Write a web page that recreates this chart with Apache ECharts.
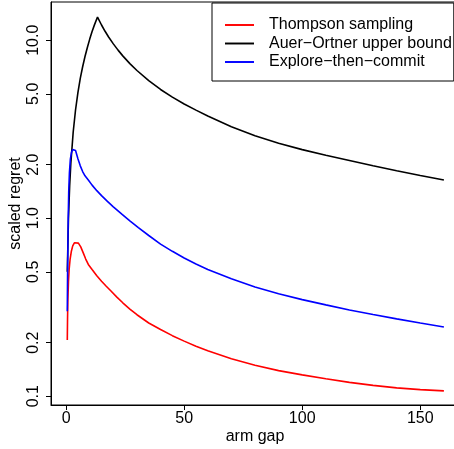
<!DOCTYPE html>
<html>
<head>
<meta charset="utf-8">
<script src="https://cdn.jsdelivr.net/npm/echarts@6/dist/echarts.min.js"></script>
<style>
html,body{margin:0;padding:0;background:#fff;}
#c{width:454px;height:449px;}
</style>
</head>
<body>
<div id="c"></div>
<script>
// Thompson sampling (red)
var redX = [0.5, 0.6, 0.75, 1.0, 1.3, 1.7, 2.2, 2.8, 3.5, 4.3, 5.2, 6.2, 7.3, 8.3, 9.4, 11, 13, 15, 17, 19, 21.5, 24, 27, 30, 35, 40, 45, 50, 55, 60, 70, 80, 90, 100, 110, 120, 130, 140, 150, 160];
var redY = [0.207, 0.27, 0.35, 0.44, 0.52, 0.59, 0.65, 0.70, 0.728, 0.738, 0.725, 0.69, 0.637, 0.59, 0.55, 0.515, 0.475, 0.443, 0.415, 0.39, 0.3606, 0.335, 0.309, 0.287, 0.258, 0.237, 0.219, 0.204, 0.191, 0.180, 0.1626, 0.1493, 0.1393, 0.1318, 0.1253, 0.1197, 0.1151, 0.1114, 0.1089, 0.1072];
// Auer-Ortner upper bound (black)
var blackX = [0.5, 1, 1.5, 2, 3, 4, 5, 6, 7, 8, 9, 10, 11, 12, 13.3, 15, 16.5, 18, 20, 22, 24, 27, 30, 35, 40, 45, 50, 55, 60, 70, 80, 90, 100, 110, 120, 130, 140, 150, 160];
var blackY = [0.5, 1.0, 1.52, 2.03, 3.05, 4.07, 5.08, 6.1, 7.1, 8.1, 9.1, 10.15, 11.2, 12.2, 13.5, 12.18, 11.23, 10.43, 9.54, 8.8, 8.17, 7.39, 6.76, 5.93, 5.29, 4.79, 4.38, 4.05, 3.75, 3.27, 2.91, 2.64, 2.43, 2.26, 2.11, 1.97, 1.85, 1.74, 1.64];
// Explore-then-commit (blue)
var blueX = [0.5, 0.6, 0.75, 0.9, 1.1, 1.4, 1.8, 2.3, 2.8, 3.3, 4, 5, 6, 7, 8, 9.4, 11, 13, 15, 17.5, 20, 23.6, 27, 30.6, 35, 40, 45, 50, 55, 60, 70, 80, 90, 100, 110, 120, 130, 140, 150, 160];
var blueY = [0.30, 0.45, 0.7, 1.0, 1.4, 1.8, 2.15, 2.35, 2.43, 2.44, 2.40, 2.16, 1.97, 1.83, 1.73, 1.64, 1.535, 1.429, 1.340, 1.243, 1.159, 1.054, 0.967, 0.887, 0.800, 0.716, 0.652, 0.598, 0.553, 0.516, 0.457, 0.411, 0.377, 0.349, 0.326, 0.305, 0.288, 0.272, 0.258, 0.245];

var seriesNames = ["Thompson sampling", "Auer\u2212Ortner upper bound", "Explore\u2212then\u2212commit"];
var xTicks = [0, 50, 100, 150];
var yTicks = [0.1, 0.2, 0.5, 1, 2, 5, 10];

function pairs(xs, ys) { return xs.map(function (x, i) { return [x, ys[i]]; }); }

var FONT = "'Liberation Sans', Arial, Helvetica, sans-serif";
var chart = echarts.init(document.getElementById('c'), null, {renderer: 'canvas'});
chart.setOption({
  animation: false,
  backgroundColor: '#fff',
  grid: {left: 51, top: 2, width: 408, height: 403, outerBoundsMode: 'none', containLabel: false,
    show: true, borderColor: '#000', borderWidth: 1, backgroundColor: 'transparent'},
  legend: {
    left: 212, top: 3,
    orient: 'vertical',
    data: seriesNames,
    icon: 'path://M0 0H30V2H0Z',
    itemWidth: 29, itemHeight: 14, itemGap: 2.5,
    padding: [14, 2, 11, 13],
    borderColor: '#000', borderWidth: 1, borderRadius: 0,
    backgroundColor: '#fff',
    textStyle: {fontFamily: FONT, fontSize: 16, color: '#000', lineHeight: 14, padding: [0, 0, 0, 10]}
  },
  xAxis: {
    type: 'value', min: -6.4, max: 166.4,
    name: 'arm gap', nameLocation: 'middle', nameGap: 24, nameMoveOverlap: false,
    nameTextStyle: {fontFamily: FONT, fontSize: 16, color: '#000'},
    axisLine: {show: true, onZero: false, lineStyle: {color: '#000', width: 1}},
    axisTick: {show: true, length: 5, lineStyle: {color: '#000'}, customValues: xTicks},
    axisLabel: {fontFamily: FONT, fontSize: 16, color: '#000', margin: 6, customValues: xTicks},
    splitLine: {show: false}
  },
  yAxis: {
    type: 'log', logBase: 10, min: 0.0893, max: 16.4,
    name: 'scaled regret', nameLocation: 'middle', nameRotate: 90, nameGap: 27, nameMoveOverlap: false,
    nameTextStyle: {fontFamily: FONT, fontSize: 16, color: '#000'},
    axisLine: {show: true, onZero: false, lineStyle: {color: '#000', width: 1}},
    axisTick: {show: true, length: 5, lineStyle: {color: '#000'}, customValues: yTicks},
    axisLabel: {fontFamily: FONT, fontSize: 16, color: '#000', rotate: 90, margin: 9, customValues: yTicks,
      formatter: function (v) { return Number(v).toFixed(1); }},
    splitLine: {show: false},
    minorTick: {show: false}
  },
  series: [
    {name: seriesNames[0], type: 'line', data: pairs(redX, redY), symbol: 'none', lineStyle: {color: '#FF0000', width: 1.6}, itemStyle: {color: '#FF0000'}, z: 2},
    {name: seriesNames[1], type: 'line', data: pairs(blackX, blackY), symbol: 'none', lineStyle: {color: '#000000', width: 1.6}, itemStyle: {color: '#000000'}, z: 2},
    {name: seriesNames[2], type: 'line', data: pairs(blueX, blueY), symbol: 'none', lineStyle: {color: '#0000FF', width: 1.6}, itemStyle: {color: '#0000FF'}, z: 3}
  ]
});
</script>
</body>
</html>
